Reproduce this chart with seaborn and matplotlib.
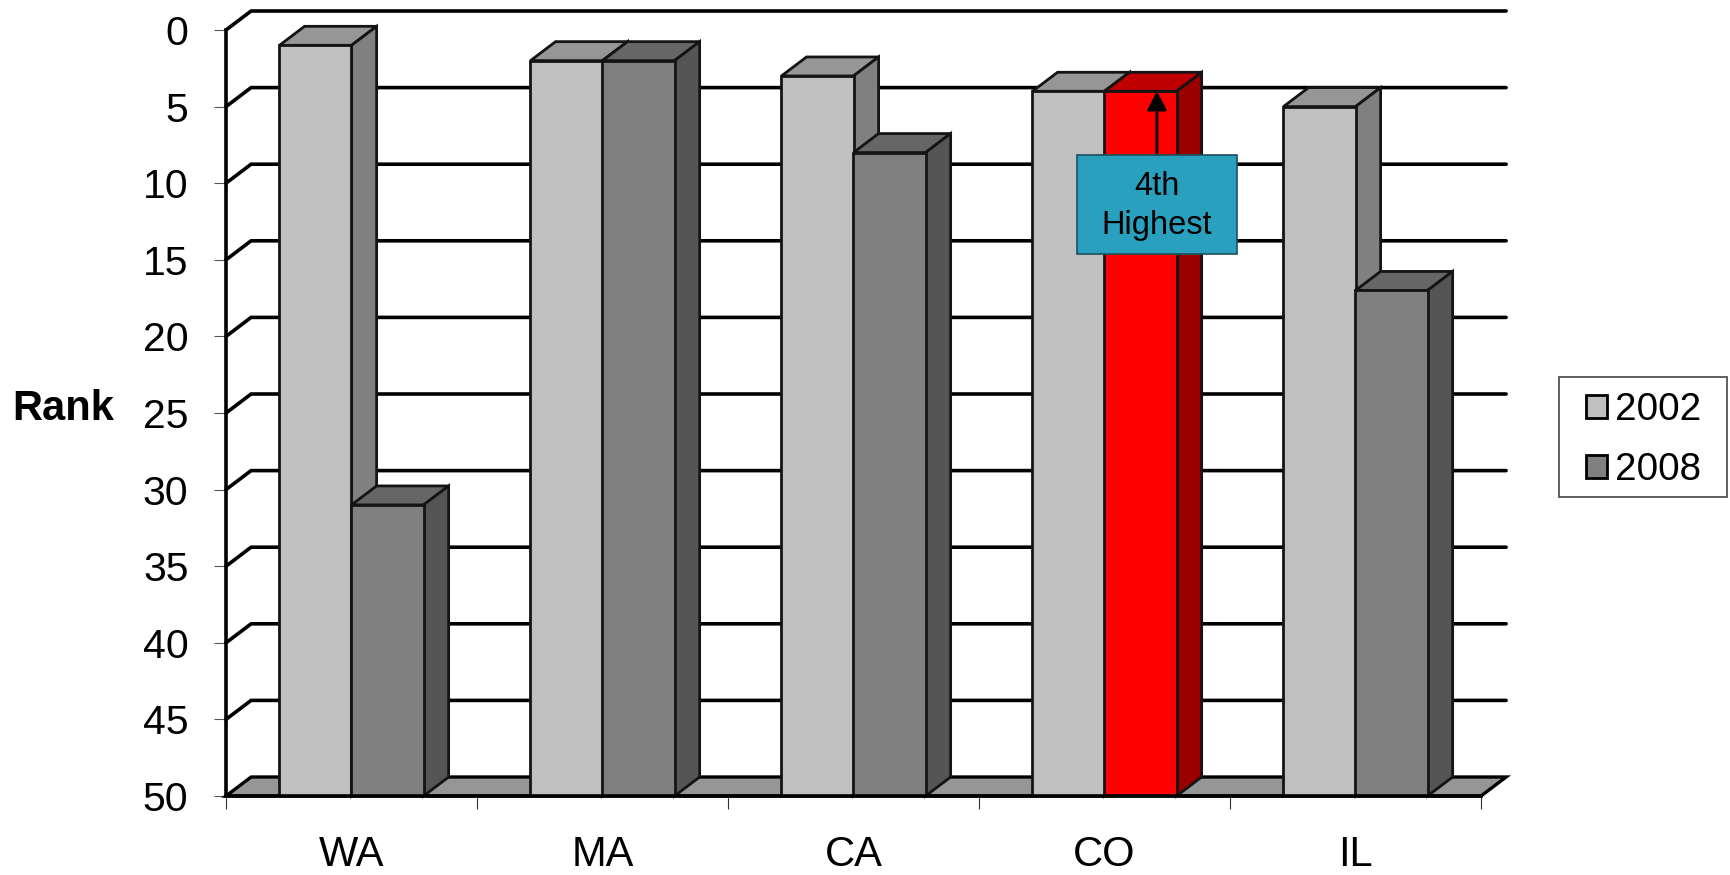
import matplotlib.pyplot as plt
import pandas as pd
import seaborn as sns
from matplotlib.patches import Patch, Polygon, Rectangle

states = ["WA", "MA", "CA", "CO", "IL"]
rank_2002 = [1, 2, 3, 4, 5]
rank_2008 = [31, 2, 8, 4, 17]
years = ["2002", "2008"]
rank_ticks = [0, 5, 10, 15, 20, 25, 30, 35, 40, 45, 50]
highlight_state = "CO"
callout_text = "4th\nHighest"

WIDTH, HEIGHT = 1731, 875
# depth of the fake 3D box, in category units and rank units
DEPTH_X = 0.1
DEPTH_Y = 1.24
RANK_MAX = 50

FRONT = {"2002": "#c0c0c0", "2008": "#808080"}
TOP = {"2002": "#969696", "2008": "#666666"}
SIDE = {"2002": "#808080", "2008": "#555555"}
EDGE = "#141414"
EDGE_WIDTH = 2.0


def fig_xy(px, py):
    """Pixel position in the picture -> figure fraction."""
    return px / WIDTH, 1 - py / HEIGHT


def add_box(fig, left, top, right, bottom, facecolor, edgecolor, zorder):
    x0, y0 = fig_xy(left, bottom)
    x1, y1 = fig_xy(right, top)
    box = Rectangle((x0, y0), x1 - x0, y1 - y0, transform=fig.transFigure,
                    facecolor=facecolor, edgecolor=edgecolor, linewidth=1.2,
                    zorder=zorder)
    fig.add_artist(box)


def draw_walls(ax):
    """Gridlines running along the back wall, and the grey floor."""
    left, right = -0.5, len(states) - 0.5
    for rank in rank_ticks[:-1]:
        ax.plot([left, left + DEPTH_X, right + DEPTH_X],
                [rank, rank - DEPTH_Y, rank - DEPTH_Y],
                color="black", lw=2.6, clip_on=False, zorder=1,
                solid_joinstyle="miter")
    floor = [(left, RANK_MAX), (right, RANK_MAX),
             (right + DEPTH_X, RANK_MAX - DEPTH_Y),
             (left + DEPTH_X, RANK_MAX - DEPTH_Y)]
    ax.add_patch(Polygon(floor, closed=True, facecolor="#969696", edgecolor="black",
                         lw=2.4, clip_on=False, zorder=1.5))


def draw_bar_depth(ax, bar, year, state):
    """Adds top and side faces to a flat seaborn bar."""
    x0 = bar.get_x()
    x1 = x0 + bar.get_width()
    rank = RANK_MAX + bar.get_height()

    front, top, side = FRONT[year], TOP[year], SIDE[year]
    if year == "2008" and state == highlight_state:
        front, top, side = "#ff0000", "#c00000", "#990000"

    zorder = 3 if year == "2002" else 4
    bar.set_facecolor(front)
    bar.set_edgecolor(EDGE)
    bar.set_linewidth(EDGE_WIDTH)
    bar.set_zorder(zorder + 0.5)

    top_face = [(x0, rank), (x1, rank), (x1 + DEPTH_X, rank - DEPTH_Y), (x0 + DEPTH_X, rank - DEPTH_Y)]
    side_face = [(x1, rank), (x1 + DEPTH_X, rank - DEPTH_Y),
                 (x1 + DEPTH_X, RANK_MAX - DEPTH_Y), (x1, RANK_MAX)]
    for face, color in [(top_face, top), (side_face, side)]:
        ax.add_patch(Polygon(face, closed=True, facecolor=color, edgecolor=EDGE,
                             lw=EDGE_WIDTH, clip_on=False, zorder=zorder))


sns.set_theme(style="white")
plt.rcParams["font.family"] = ["Liberation Sans", "DejaVu Sans"]

df = pd.DataFrame({
    "state": states * 2,
    "year": [years[0]] * len(states) + [years[1]] * len(states),
    "rank": rank_2002 + rank_2008,
})
df["height"] = df["rank"] - RANK_MAX

fig = plt.figure(figsize=(WIDTH / 100, HEIGHT / 100), dpi=100)
ax = fig.add_axes([226 / WIDTH, 1 - 796 / HEIGHT, 1255 / WIDTH, 766 / HEIGHT])

sns.barplot(data=df, x="state", y="height", hue="year", order=states, hue_order=years,
            palette=FRONT, width=0.574, bottom=RANK_MAX, legend=False, ax=ax)

bars = list(ax.patches)
labels_for_bars = [(year, state) for year in years for state in states]
for bar, (year, state) in zip(bars, labels_for_bars):
    draw_bar_depth(ax, bar, year, state)

draw_walls(ax)

ax.set_xlim(-0.5, len(states) - 0.5)
ax.set_ylim(RANK_MAX, 0)
ax.patch.set_alpha(0)
ax.set_xlabel("")

# ticks sit between the categories, names sit under the bars
ax.set_xticks([i - 0.5 for i in range(len(states) + 1)], labels=[""] * (len(states) + 1))
ax.set_xticks(range(len(states)), labels=states, minor=True)
ax.tick_params(axis="x", which="major", length=9, width=0.8, color="#333333", bottom=True)
ax.tick_params(axis="x", which="minor", length=0, pad=28, labelsize=30, labelcolor="black")
ax.set_yticks(rank_ticks)
ax.tick_params(axis="y", length=9, width=0.8, color="#555555", left=True, pad=18,
               labelsize=29.5, labelcolor="black")

ax.set_ylabel("Rank", rotation=0, fontsize=30, fontweight="bold", color="black",
              ha="center", va="center")
ax.yaxis.set_label_coords(-0.1295, 0.505)

sns.despine(ax=ax, top=True, right=True)
for name in ["left", "bottom"]:
    ax.spines[name].set_linewidth(2.6)
    ax.spines[name].set_color("black")
    ax.spines[name].set_zorder(6)

# callout over the CO bar
add_box(fig, 1077, 155, 1237, 254, "#2aa0bf", "#1d4f5e", 10)
fig.text(*fig_xy(1157, 206), callout_text, ha="center", va="center", fontsize=23.5,
         color="black", linespacing=1.3, zorder=11)
co_index = states.index(highlight_state)
ax.annotate("", xy=(co_index + 0.209, rank_2008[co_index]), xytext=(co_index + 0.209, 9.1),
            arrowprops=dict(arrowstyle="-|>,head_width=0.5,head_length=0.95", color="black",
                            lw=2, shrinkA=0, shrinkB=0), zorder=9)

# legend: frame is drawn apart because its padding differs per side
add_box(fig, 1559, 377, 1727, 497, "white", "#444444", 10)
handles = [Patch(facecolor=FRONT[y], edgecolor="black", linewidth=2, label=y) for y in years]
legend = fig.legend(handles=handles, loc="center left", bbox_to_anchor=fig_xy(1586, 440),
                    frameon=False, fontsize=27.8, labelcolor="black", handlelength=0.55,
                    handleheight=0.55, handletextpad=0.2, labelspacing=0.63, borderpad=0,
                    borderaxespad=0)
legend.set_zorder(11)

fig.savefig("out.png", dpi=100)
